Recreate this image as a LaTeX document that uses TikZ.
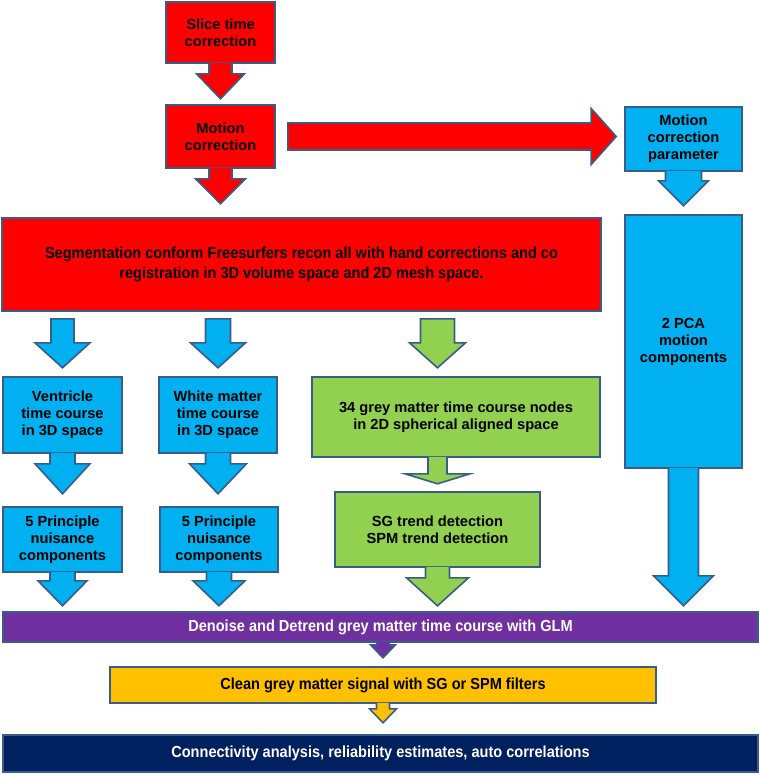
\documentclass[tikz,border=0pt]{standalone}
\usepackage{fontspec}
\setmainfont{Liberation Sans}
\newfontfamily\narrowfont[FakeStretch=0.91]{Liberation Sans}
\usetikzlibrary{calc}
\definecolor{flowRed}{HTML}{FF0000}
\definecolor{flowBlue}{HTML}{00B0F0}
\definecolor{flowGreen}{HTML}{92D050}
\definecolor{flowPurple}{HTML}{7030A0}
\definecolor{flowYellow}{HTML}{FFC000}
\definecolor{flowNavy}{HTML}{002060}
\definecolor{flowEdge}{HTML}{385D8A}

% one pixel of the layout grid
\newlength{\px}
\setlength{\px}{0.75pt}

% block arrow hanging off the bottom of a box (no top edge)
% #1 colour, #2 top point, #3 shaft length, #4 head length, #5 half shaft, #6 half head
\newcommand{\callout}[6]{%
  \path #2 coordinate (ctop);
  \filldraw[blockline, fill=#1] ($(ctop)+(-#5,-1)$) -- ++(0,#3+1) -- ++(#5-#6,0)
    -- ++(#6,#4) -- ++(#6,-#4) -- ++(#5-#6,0) -- ++(0,-#3-1);
}
% free standing block arrow, same arguments
\newcommand{\blockarrow}[6]{%
  \path #2 coordinate (btop);
  \filldraw[blockline, fill=#1] ($(btop)+(-#5,0)$) -- ++(0,#3) -- ++(#5-#6,0)
    -- ++(#6,#4) -- ++(#6,-#4) -- ++(#5-#6,0) -- ++(0,-#3) -- cycle;
}

\begin{document}
\begin{tikzpicture}[
  x=0.75pt, y=-0.75pt,
  box/.style={
    rectangle, draw=flowEdge, line width=1.2pt,
    inner sep=0pt, align=center, text=black,
    font=\bfseries\fontsize{11}{12.75}\selectfont
  },
  widebox/.style={box, font=\narrowfont\bfseries\fontsize{12}{15}\selectfont},
  blockline/.style={draw=flowEdge, line width=1.2pt, line join=miter}
]
\useasboundingbox (0,0) rectangle (760,776);

% Preprocessing
\node[box, fill=flowRed, minimum width=109\px, minimum height=61\px]
  (slice) at (220.5,32.5) {Slice time\\correction};
\node[box, fill=flowRed, minimum width=109\px, minimum height=63\px]
  (motion) at (220.5,136.5) {Motion\\correction};
\node[box, fill=flowBlue, minimum width=117\px, minimum height=64\px]
  (mcp) at (683.5,139) {Motion\\correction\\parameter};

% Segmentation and motion components
\node[widebox, fill=flowRed, minimum width=599\px, minimum height=93\px]
  (seg) at (301.5,264.5) {Segmentation conform Freesurfers recon all with hand corrections and co\\registration in 3D volume space and 2D mesh space.};
\node[box, fill=flowBlue, minimum width=117\px, minimum height=253\px]
  (pca) at (683.5,341.5) {2 PCA\\motion\\components};

% Time courses
\node[box, fill=flowBlue, minimum width=119\px, minimum height=76\px]
  (vent) at (62.5,415) {Ventricle\\time course\\in 3D space};
\node[box, fill=flowBlue, minimum width=118\px, minimum height=76\px]
  (white) at (218,415) {White matter\\time course\\in 3D space};
\node[box, fill=flowGreen, minimum width=288\px, minimum height=80\px]
  (grey) at (456,417) {34 grey matter time course nodes\\in 2D spherical aligned space};

% Nuisance components and trends
\node[box, fill=flowBlue, minimum width=119\px, minimum height=65\px]
  (nuisv) at (62.5,539.5) {5 Principle\\nuisance\\components};
\node[box, fill=flowBlue, minimum width=118\px, minimum height=65\px]
  (nuisw) at (219,539.5) {5 Principle\\nuisance\\components};
\node[box, fill=flowGreen, minimum width=205\px, minimum height=75\px]
  (trend) at (437.5,529.5) {SG trend detection\\SPM trend detection};

% GLM, filtering, analysis
\node[widebox, fill=flowPurple, text=white, minimum width=755\px, minimum height=30\px]
  (glm) at (380.5,627) {Denoise and Detrend grey matter time course with GLM};
\node[widebox, fill=flowYellow, minimum width=546\px, minimum height=36\px]
  (clean) at (383,685) {Clean grey matter signal with SG or SPM filters};
\node[widebox, fill=flowNavy, text=white, minimum width=755\px, minimum height=37\px]
  (conn) at (380.5,753.5) {Connectivity analysis, reliability estimates, auto correlations};

% Arrows
\callout{flowRed}{(slice.south)}{10}{25}{11.5}{24}
\callout{flowRed}{(motion.south)}{10}{25}{11.5}{25}
\callout{flowBlue}{(mcp.south)}{9}{25}{18}{25}

\coordinate (rs) at ($(motion.east)+(12,0)$);
\coordinate (re) at ($(rs -| mcp.west)+(-8,0)$);
\filldraw[blockline, fill=flowRed] ($(rs)+(0,-13.5)$) -- ($(re)+(-25,-13.5)$)
  -- ($(re)+(-25,-28)$) -- (re) -- ($(re)+(-25,28)$) -- ($(re)+(-25,13.5)$)
  -- ($(rs)+(0,13.5)$) -- cycle;

\blockarrow{flowBlue}{($(seg.south -| vent.north)+(0,7)$)}{24}{25}{11.5}{27.5}
\blockarrow{flowBlue}{($(seg.south -| white.north)+(0,7)$)}{24}{25}{12.5}{27.5}
\blockarrow{flowGreen}{($(seg.south -| trend.north)+(0,7)$)}{24}{25}{17}{28}

\callout{flowBlue}{(vent.south)}{10}{30}{12.5}{27.5}
\callout{flowBlue}{(white.south)}{10}{30}{12.5}{28.5}
\callout{flowGreen}{(grey.south -| trend.south)}{16}{10}{9.5}{32.5}

\callout{flowBlue}{(nuisv.south)}{8}{25}{12.5}{24.5}
\callout{flowBlue}{(nuisw.south)}{8}{25}{12.5}{26}
\callout{flowGreen}{(trend.south)}{10}{28}{12}{31}
\callout{flowBlue}{(pca.south)}{107}{30}{15}{30}

\callout{flowPurple}{(glm.south -| clean.south)}{2}{13}{6}{12.5}
\callout{flowYellow}{(clean.south)}{5}{14}{6.5}{13.5}

\end{tikzpicture}
\end{document}
